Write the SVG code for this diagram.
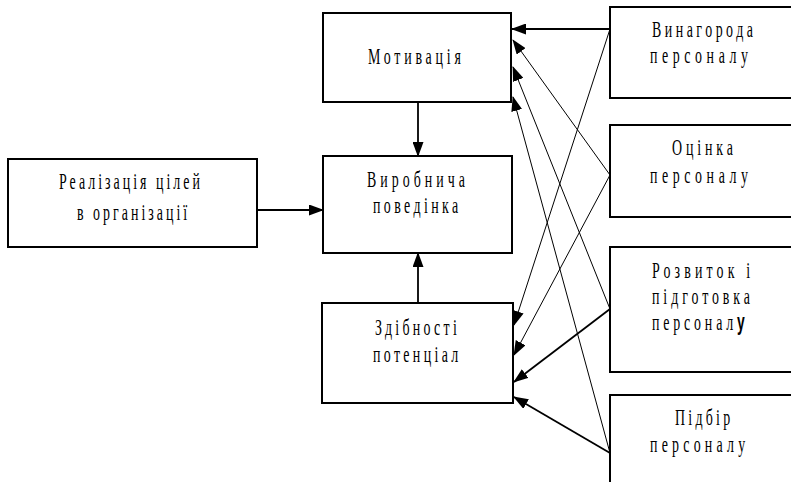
<svg xmlns="http://www.w3.org/2000/svg" width="791" height="482" viewBox="0 0 791 482">
<style>
.box{fill:#fff;stroke:#000;stroke-width:2}
.t{font-family:"Liberation Serif","Times New Roman",serif;font-size:24px;fill:#000}
.thin{stroke:#000;stroke-width:1;fill:none}
.mid{stroke:#000;stroke-width:1.8;fill:none}
</style>
<defs>
<marker id="ah" markerUnits="userSpaceOnUse" markerWidth="15" markerHeight="11" refX="14" refY="5.5" orient="auto" viewBox="0 0 15 11">
<path d="M0,0 L15,5.5 L0,11 z" fill="#000"/>
</marker>
</defs>
<g id="connectors">
<line class="mid" x1="257" y1="210" x2="323" y2="210" marker-end="url(#ah)"/>
<line class="mid" x1="418" y1="102" x2="418" y2="156" marker-end="url(#ah)"/>
<line class="mid" x1="418" y1="303" x2="418" y2="253" marker-end="url(#ah)"/>
<line class="mid" x1="610" y1="29" x2="512" y2="29" marker-end="url(#ah)"/>
<line class="thin" x1="610" y1="175" x2="513" y2="40" marker-end="url(#ah)"/>
<line class="thin" x1="610" y1="309" x2="513" y2="67" marker-end="url(#ah)"/>
<line class="thin" x1="610" y1="453" x2="513" y2="97" marker-end="url(#ah)"/>
<line class="thin" x1="610" y1="29" x2="514" y2="325" marker-end="url(#ah)"/>
<line class="thin" x1="610" y1="175" x2="514" y2="355" marker-end="url(#ah)"/>
<line class="mid" x1="610" y1="309" x2="514" y2="382" marker-end="url(#ah)"/>
<line class="mid" x1="610" y1="453" x2="514" y2="397" marker-end="url(#ah)"/>
</g>
<g id="realizatsiia">
<rect class="box" x="8" y="159" width="249" height="88"/>
<text class="t" transform="translate(59,189) scale(0.58,1)" textLength="243" lengthAdjust="spacing">Реалізація цілей</text>
<text class="t" transform="translate(77,220) scale(0.58,1)" textLength="190" lengthAdjust="spacing">в організації</text>
</g>
<g id="motyvatsiia">
<rect class="box" x="323" y="13" width="188" height="89"/>
<text class="t" transform="translate(368,64) scale(0.58,1)" textLength="160" lengthAdjust="spacing">Мотивація</text>
</g>
<g id="povedinka">
<rect class="box" x="323" y="156" width="189" height="97"/>
<text class="t" transform="translate(367,187) scale(0.58,1)" textLength="169" lengthAdjust="spacing">Виробнича</text>
<text class="t" transform="translate(373,213) scale(0.58,1)" textLength="147" lengthAdjust="spacing">поведінка</text>
</g>
<g id="zdibnosti">
<rect class="box" x="322" y="303" width="191" height="100"/>
<text class="t" transform="translate(375,335) scale(0.58,1)" textLength="141" lengthAdjust="spacing">Здібності</text>
<text class="t" transform="translate(373,362) scale(0.58,1)" textLength="147" lengthAdjust="spacing">потенціал</text>
</g>
<g id="vynahoroda">
<rect class="box" x="610" y="7" width="200" height="91"/>
<text class="t" transform="translate(652,37) scale(0.58,1)" textLength="174" lengthAdjust="spacing">Винагорода</text>
<text class="t" transform="translate(650,63) scale(0.58,1)" textLength="169" lengthAdjust="spacing">персоналу</text>
</g>
<g id="otsinka">
<rect class="box" x="610" y="125" width="200" height="92"/>
<text class="t" transform="translate(672,155) scale(0.58,1)" textLength="105" lengthAdjust="spacing">Оцінка</text>
<text class="t" transform="translate(650,183) scale(0.58,1)" textLength="169" lengthAdjust="spacing">персоналу</text>
</g>
<g id="rozvytok">
<rect class="box" x="610" y="247" width="200" height="125"/>
<text class="t" transform="translate(652,278) scale(0.58,1)" textLength="169" lengthAdjust="spacing">Розвиток і</text>
<text class="t" transform="translate(652,304) scale(0.58,1)" textLength="169" lengthAdjust="spacing">підготовка</text>
<text class="t" transform="translate(652,330) scale(0.58,1)" textLength="160" lengthAdjust="spacing">персонал<tspan font-weight="bold" font-family="Liberation Sans, sans-serif">у</tspan></text>
</g>
<g id="pidbir">
<rect class="box" x="610" y="395" width="200" height="100"/>
<text class="t" transform="translate(675,425) scale(0.58,1)" textLength="95" lengthAdjust="spacing">Підбір</text>
<text class="t" transform="translate(650,452) scale(0.58,1)" textLength="164" lengthAdjust="spacing">персоналу</text>
</g>
</svg>
